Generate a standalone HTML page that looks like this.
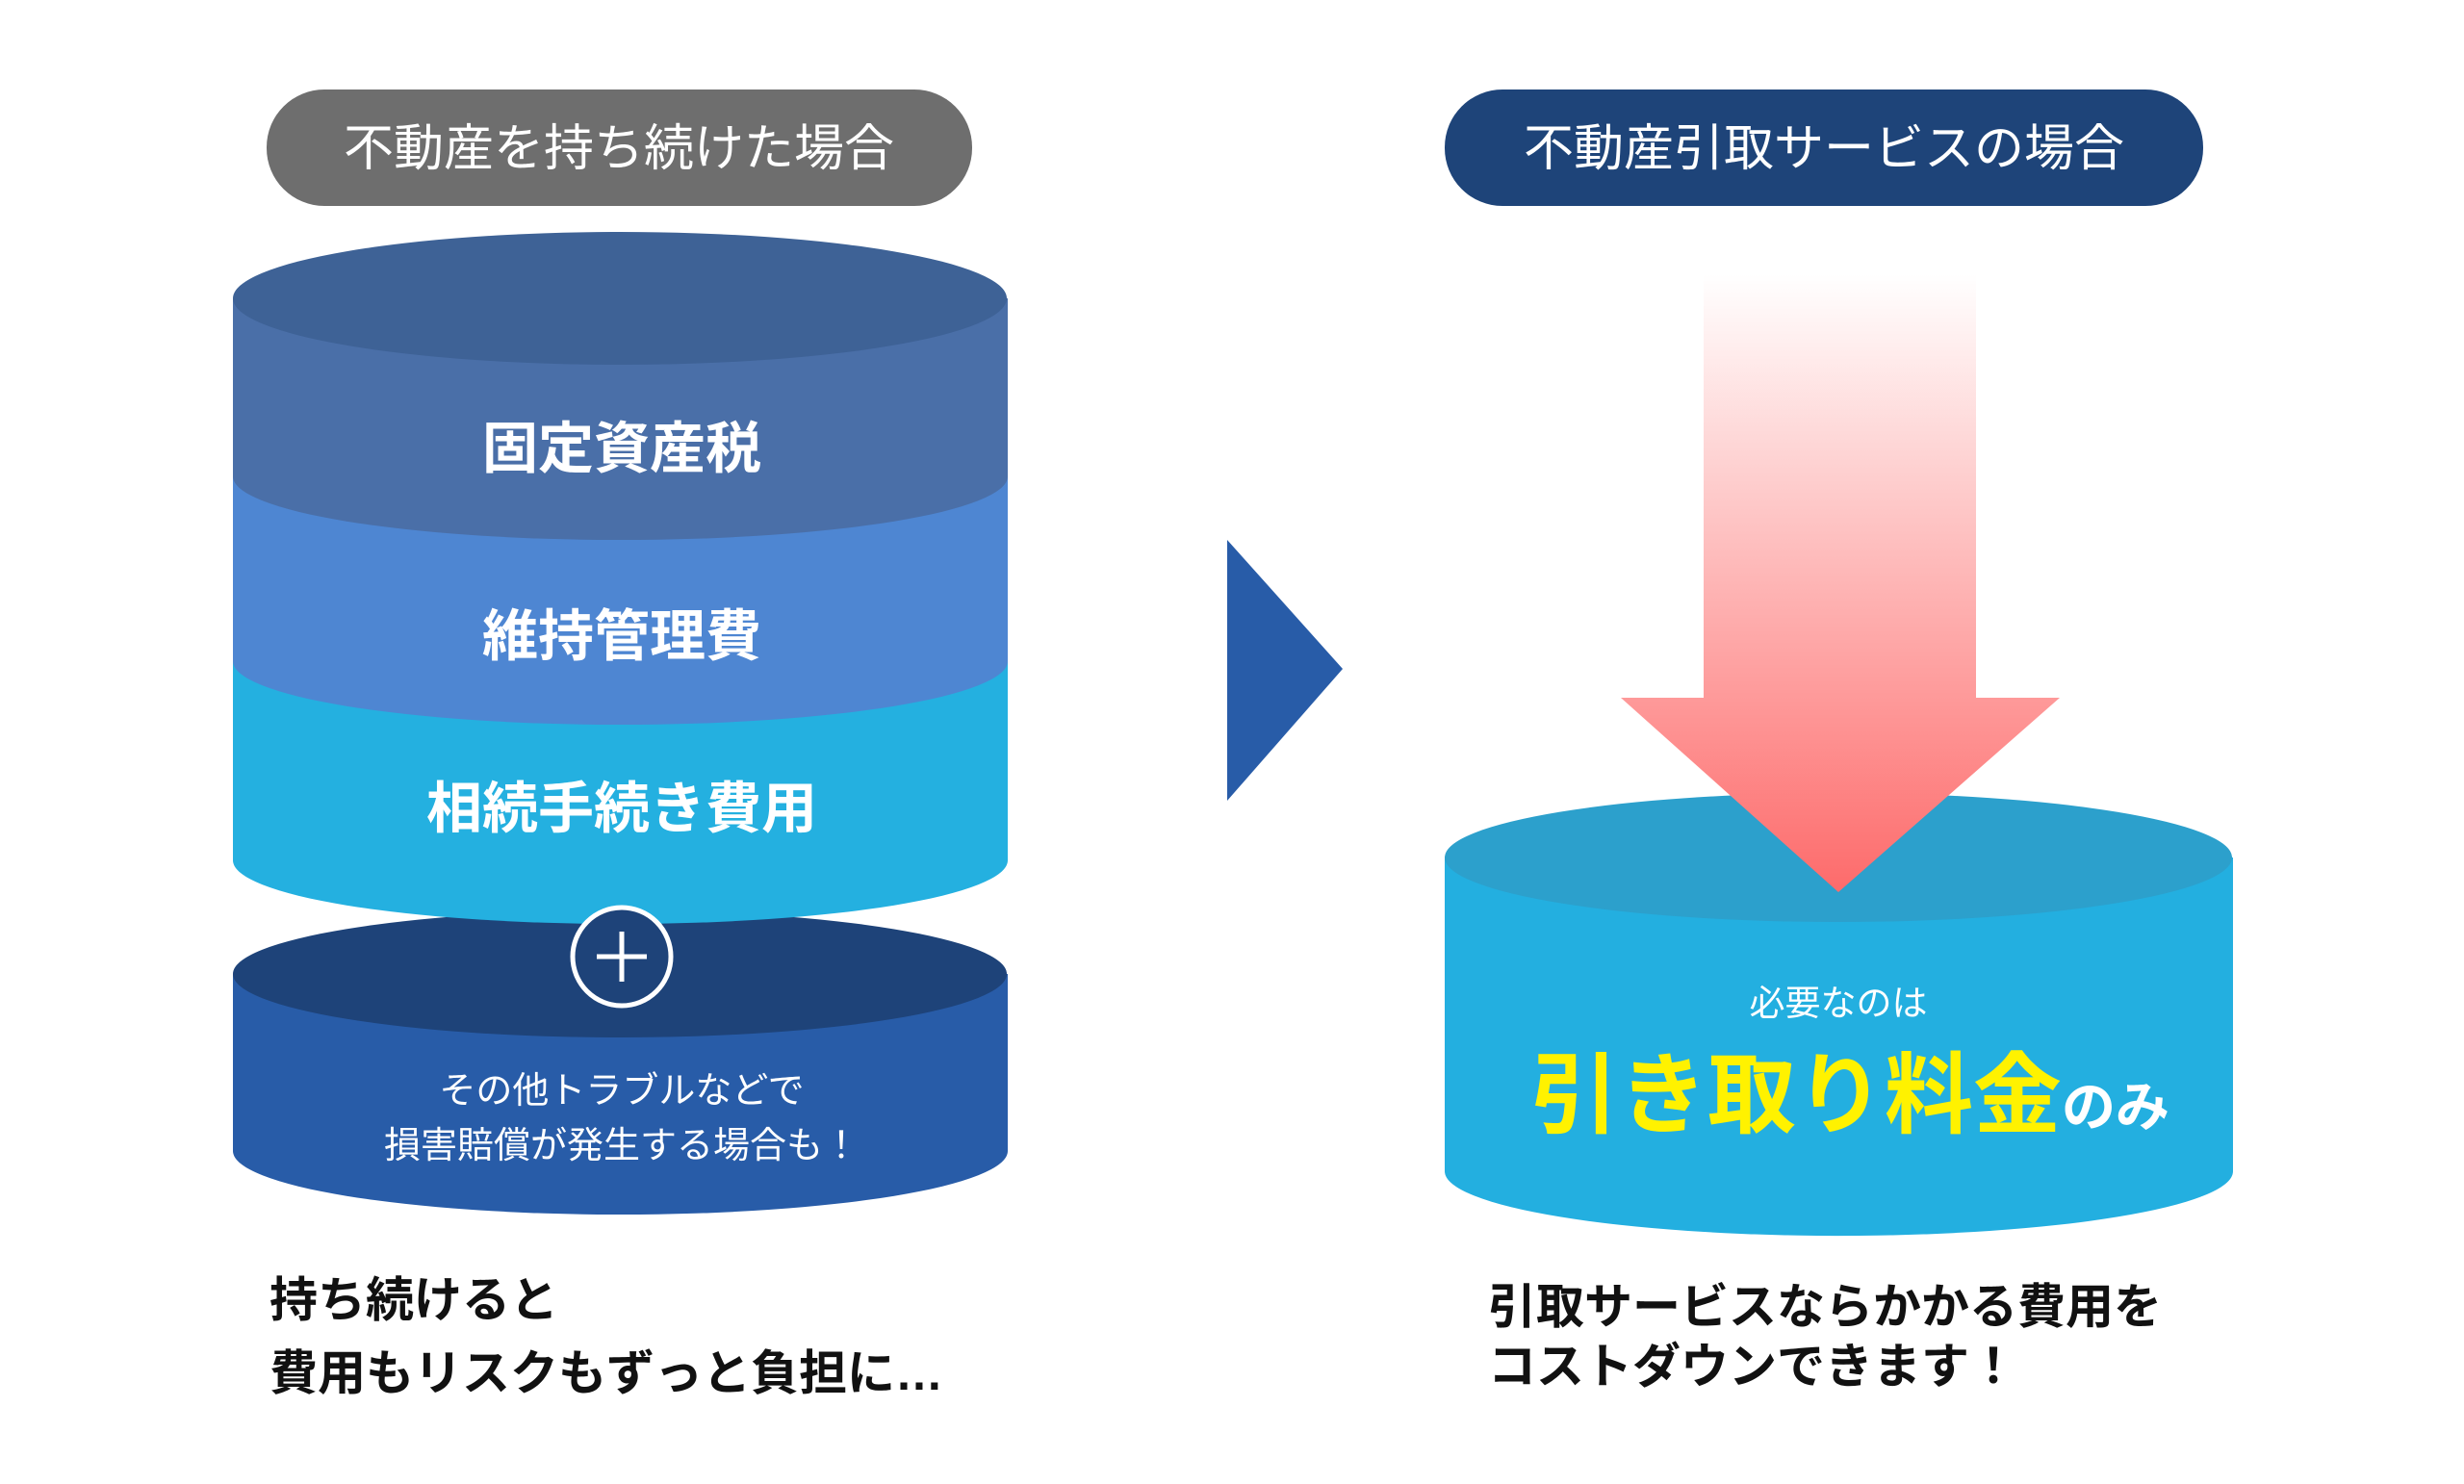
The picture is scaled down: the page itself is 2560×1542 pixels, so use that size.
<!DOCTYPE html>
<html><head><meta charset="utf-8"><style>
html,body{margin:0;padding:0;background:#fff;}
svg{display:block;}
text{font-family:"Liberation Sans","Noto Sans CJK JP",sans-serif;}
</style></head><body>
<svg width="2560" height="1542" viewBox="0 0 2560 1542" xmlns="http://www.w3.org/2000/svg">
<defs>
<linearGradient id="ar" x1="0" y1="0" x2="0" y2="1">
<stop offset="0" stop-color="#ffffff"/>
<stop offset="1" stop-color="#fd6b6b"/>
</linearGradient>
</defs>
<rect width="2560" height="1542" fill="#fff"/>
<rect x="277" y="93" width="733" height="121" rx="60" fill="#6e6e6e"/>
<text x="643" y="172" font-size="52" fill="#fff" text-anchor="middle">不動産を持ち続けた場合</text>
<path d="M242 1012 L242 1196 A402 66 0 0 0 1047 1196 L1047 1012 Z" fill="#285ca8"/>
<ellipse cx="644" cy="1012" rx="402" ry="66" fill="#1e4379"/>
<path d="M242 687 L242 894 A402 66 0 0 0 1047 894 L1047 687 Z" fill="#24b0e0"/>
<path d="M242 495 L242 687 A402 66 0 0 0 1047 687 L1047 495 Z" fill="#4e86d2"/>
<path d="M242 310 L242 495 A402 66 0 0 0 1047 495 L1047 310 Z" fill="#4a6fa8"/>
<ellipse cx="644" cy="310" rx="402" ry="69" fill="#3e6296"/>
<text x="646" y="486" font-size="58" font-weight="bold" fill="#fff" text-anchor="middle">固定資産税</text>
<text x="646" y="681" font-size="58" font-weight="bold" fill="#fff" text-anchor="middle">維持管理費</text>
<text x="646" y="860" font-size="58" font-weight="bold" fill="#fff" text-anchor="middle">相続手続き費用</text>
<circle cx="646" cy="994" r="51" fill="#1e4379" stroke="#fff" stroke-width="5"/>
<path d="M620 994 H672 M646 968 V1020" stroke="#fff" stroke-width="5"/>
<text x="646" y="1146" font-size="38" fill="#fff" text-anchor="middle">その他トラブルなどで</text>
<text x="646" y="1203" font-size="38" fill="#fff" text-anchor="middle">損害賠償が発生する場合も！</text>
<text x="280" y="1368" font-size="50" font-weight="bold" fill="#111">持ち続けると</text>
<text x="280" y="1444" font-size="50" font-weight="bold" fill="#111">費用もリスクもずっと負担に…</text>
<polygon points="1275,561 1395,695 1275,832" fill="#285ca8"/>
<g transform="translate(-8,0)">
<rect x="1509" y="93" width="788" height="121" rx="60" fill="#1e4479"/>
<text x="1903" y="172" font-size="52" fill="#fff" text-anchor="middle">不動産引取サービスの場合</text>
<path d="M1509 891 L1509 1217 A409 67 0 0 0 2328 1217 L2328 891 Z" fill="#23afe0"/>
<ellipse cx="1918" cy="891" rx="409" ry="67" fill="#2ca0cc"/>
<polygon points="1778,285 2061,285 2061,725 2148,725 1918,927 1692,725 1778,725" fill="url(#ar)"/>
<text x="1918" y="1055" font-size="37" fill="#fff" text-anchor="middle">必要なのは</text>
<text x="1598" y="1170" font-size="92" font-weight="bold" fill="#fff200">引き取り料金<tspan font-size="56" fill="#fff">のみ</tspan></text>
<text x="1554" y="1375" font-size="50" font-weight="bold" fill="#111">引取サービスならかかる費用を</text>
<text x="1554" y="1437" font-size="50" font-weight="bold" fill="#111">コストダウンできます！</text>
</g>
</svg>
</body></html>
